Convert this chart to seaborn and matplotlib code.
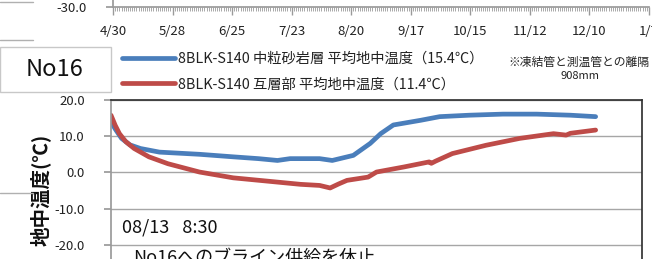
import numpy as np
import pandas as pd
import matplotlib
matplotlib.use("Agg")
import matplotlib.pyplot as plt
import matplotlib.dates as mdates
from matplotlib.lines import Line2D
from matplotlib.patches import Rectangle
import seaborn as sns

# data (days after 4/30, ground temperature in deg C)
start_date = "2014-04-30"
axis_days = 252
blue_days = [0, 2, 5, 9, 14, 23, 42, 58, 70, 79, 85, 99, 105, 115, 123, 128, 134, 147, 156, 170, 186, 202, 218, 230]
blue_temp = [14.0, 12.0, 9.4, 7.6, 6.6, 5.6, 5.0, 4.3, 3.8, 3.3, 3.8, 3.8, 3.3, 4.7, 8.0, 10.7, 13.1, 14.4, 15.4, 15.8, 16.1, 16.1, 15.8, 15.4]
red_days = [0, 2, 4, 7, 11, 18, 27, 42, 58, 74, 90, 99, 104, 108, 112, 122, 126, 139, 151, 152, 154, 162, 178, 194, 210, 216, 218, 230]
red_temp = [15.8, 13.0, 10.7, 8.5, 6.6, 4.3, 2.4, 0.1, -1.5, -2.4, -3.3, -3.6, -4.3, -3.2, -2.2, -1.3, 0.1, 1.5, 2.9, 2.5, 3.1, 5.2, 7.5, 9.4, 10.7, 10.3, 10.8, 11.7]
blue_label = "8BLK-S140 中粒砂岩層 平均地中温度（15.4℃）"
red_label = "8BLK-S140 互層部 平均地中温度（11.4℃）"
y_ticks = [-30, -20, -10, 0, 10, 20]

W, H = 652, 259
base = pd.Timestamp(start_date)
df = pd.concat([
    pd.DataFrame({"date": base + pd.to_timedelta(blue_days, unit="D"), "temp": blue_temp, "series": blue_label}),
    pd.DataFrame({"date": base + pd.to_timedelta(red_days, unit="D"), "temp": red_temp, "series": red_label}),
])

sns.set_theme(style="white")
plt.rcParams["font.family"] = ["Noto Sans CJK JP", "DejaVu Sans"]

fig = plt.figure(figsize=(W / 100, H / 100), dpi=100)
fig.patch.set_facecolor("white")


def fx(x):
    return x / W


def fy(y):
    return 1 - y / H


axis_gray = "#9a9a9a"

# fragment of the chart above: only its bottom axis is in view
top = fig.add_axes([fx(113), fy(7), fx(649) - fx(113), 0.5])
top.set_xlim(base, base + pd.Timedelta(days=axis_days))
top.set_ylim(-30, 20)
top.set_yticks([-30])
top.set_yticklabels(["-30.0"], fontsize=9.5, color="#222222")
top.xaxis.set_minor_locator(mdates.DayLocator(interval=1))
ticks = [base + pd.Timedelta(days=d) for d in range(0, axis_days + 1, 28)]
top.set_xticks(ticks)
top.set_xticklabels([f"{t.month}/{t.day}" for t in ticks], fontsize=9.5, color="#222222")
top.tick_params(axis="x", which="major", length=6, width=1, color=axis_gray, pad=7, bottom=True)
top.tick_params(axis="x", which="minor", length=3, width=0.6, color=axis_gray, bottom=True)
top.tick_params(axis="y", length=5, color=axis_gray, left=True, pad=14)
for s in ["top", "right"]:
    top.spines[s].set_visible(False)
for s in ["left", "bottom"]:
    top.spines[s].set_color(axis_gray)
top.patch.set_alpha(0)

# main chart
ax = fig.add_axes([fx(111), fy(281), fx(642) - fx(111), fy(100) - fy(281)])
sns.lineplot(data=df, x="date", y="temp", hue="series",
             palette={blue_label: "#4a7ebb", red_label: "#be4b48"},
             linewidth=3.4, ax=ax, legend=False)
ax.set_xlim(base, base + pd.Timedelta(days=axis_days))
ax.set_ylim(-30, 20)
ax.set_yticks(y_ticks)
ax.set_yticklabels([f"{v:.1f}" for v in y_ticks], fontsize=9.5, color="#222222")
ax.set_xticks([])
ax.set_xlabel("")
ax.set_ylabel("地中温度(℃)", fontsize=14, fontweight="bold", color="#111111")
ax.yaxis.set_label_coords(-0.114, 0.505)
ax.yaxis.grid(True, color="#a6a6a6", linewidth=1)
ax.tick_params(axis="y", length=5, color=axis_gray, left=True, pad=14)
ax.spines["left"].set_color(axis_gray)
ax.spines["top"].set_color("#333333")
ax.spines["right"].set_color("#333333")
ax.spines["bottom"].set_visible(False)
ax.text(0.021, 0.293, "08/13\u2002 8:30", transform=ax.transAxes, fontsize=13, color="#111111", va="center")
ax.text(0.041, 0.13, "No16へのブライン供給を休止", transform=ax.transAxes, fontsize=13, color="#111111", va="center")

handles = [Line2D([], [], color="#4a7ebb", lw=3.4), Line2D([], [], color="#be4b48", lw=3.4)]
leg = fig.legend(handles, [blue_label, red_label], loc="upper left",
                 bbox_to_anchor=(fx(116), fy(46)), frameon=False, fontsize=10.3,
                 handlelength=3.7, handletextpad=0.2, labelspacing=0.8, borderaxespad=0)
for t in leg.get_texts():
    t.set_color("#222222")

# No16 box and side notes
fig.add_artist(Rectangle((fx(0), fy(92)), fx(111), fy(47) - fy(92), transform=fig.transFigure,
                         fill=False, edgecolor="#c8c8c8", linewidth=1))
fig.text(fx(55), fy(70), "No16", fontsize=17, ha="center", va="center", color="#111111")
fig.text(fx(508), fy(62), "※凍結管と測温管との離隔", fontsize=8.5, va="center", color="#222222")
fig.text(fx(580), fy(76), "908mm", fontsize=8, ha="center", va="center", color="#222222")

# remains of a neighbouring panel on the left edge
for y in [2, 40, 193]:
    fig.add_artist(Line2D([fx(0), fx(33)], [fy(y), fy(y)], transform=fig.transFigure,
                          color="#b0b0b0", linewidth=1))

fig.savefig("out.png", dpi=100)
